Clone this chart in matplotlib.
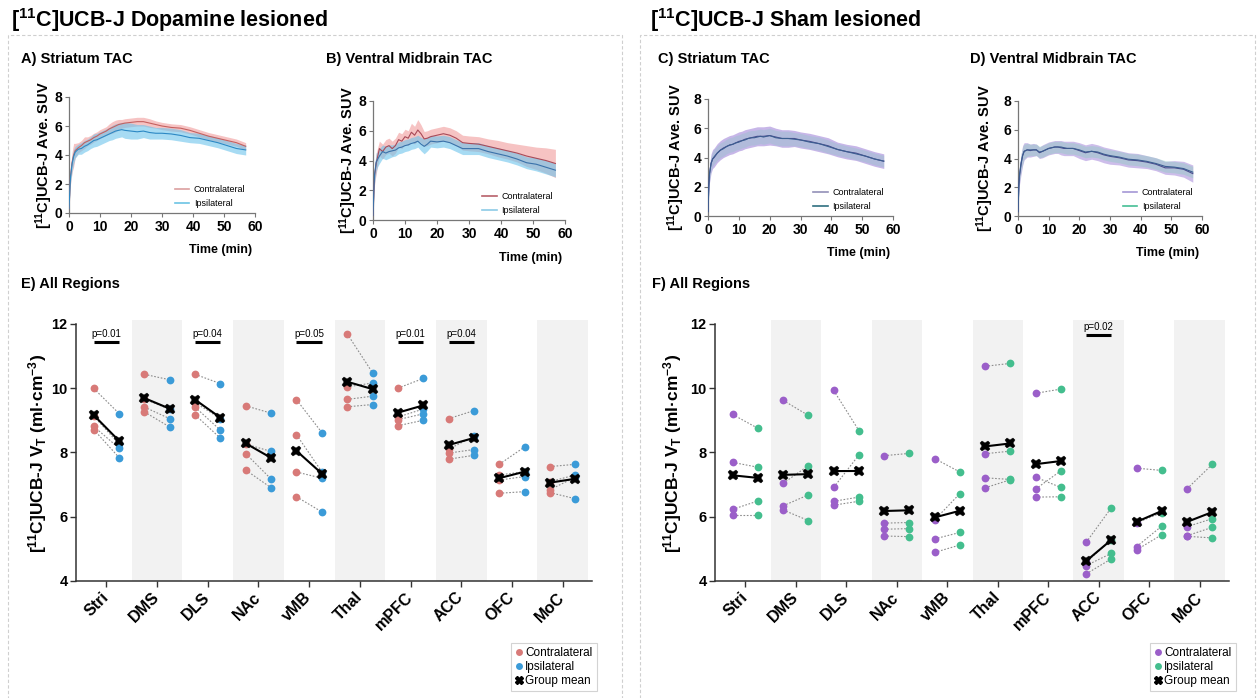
"""
[11C]UCB-J PET figure: striatal / ventral midbrain TACs and regional V_T
for dopamine-lesioned and sham-lesioned groups.
"""

import numpy as np
import matplotlib
matplotlib.use("Agg")
import matplotlib.pyplot as plt
from matplotlib.lines import Line2D
from matplotlib.patches import Rectangle

plt.rcParams["font.family"] = ["Liberation Sans", "DejaVu Sans"]
plt.rcParams["mathtext.fontset"] = "custom"
plt.rcParams["mathtext.rm"] = "Liberation Sans"
plt.rcParams["mathtext.bf"] = "Liberation Sans:bold"
plt.rcParams["mathtext.it"] = "Liberation Sans:italic"

W, H = 1260, 698

# ---- time-activity curves (frame mid-times, min) ----
tac_time = [0, 0.25, 0.5, 1, 1.5, 2, 3, 4, 5, 6, 7, 8, 9, 10, 11, 12, 13, 14, 15,
            16, 17, 18, 20, 22, 24, 26, 28, 30, 33, 36, 39, 42, 45, 48, 51, 54, 57]

# dopamine lesioned, striatum
da_str_contra = [0.3, 1.5, 2.6, 3.5, 4.0, 4.3, 4.5, 4.65, 4.85, 4.95, 5.05, 5.2, 5.3, 5.45, 5.55,
                 5.65, 5.8, 5.9, 6.0, 6.1, 6.15, 6.2, 6.25, 6.3, 6.3, 6.2, 6.1, 6.0, 5.9, 5.85,
                 5.7, 5.5, 5.3, 5.15, 5.0, 4.85, 4.6]
da_str_contra_sd = [0.1, 0.4, 0.6, 0.7, 0.8, 0.5, 0.35, 0.35, 0.4, 0.3, 0.3, 0.3, 0.3, 0.3, 0.3,
                    0.3, 0.35, 0.4, 0.4, 0.35, 0.3, 0.3, 0.3, 0.3, 0.3, 0.3, 0.25, 0.25, 0.25, 0.25,
                    0.25, 0.25, 0.25, 0.25, 0.25, 0.25, 0.25]
da_str_ipsi = [0.3, 1.5, 2.5, 3.4, 3.9, 4.2, 4.4, 4.45, 4.6, 4.7, 4.85, 5.0, 5.05, 5.15, 5.25,
               5.35, 5.45, 5.55, 5.65, 5.7, 5.75, 5.7, 5.65, 5.6, 5.65, 5.55, 5.5, 5.5, 5.45, 5.35,
               5.2, 5.15, 5.0, 4.85, 4.65, 4.45, 4.35]
da_str_ipsi_sd = [0.1, 0.3, 0.4, 0.5, 0.5, 0.4, 0.35, 0.4, 0.4, 0.4, 0.4, 0.45, 0.45, 0.45, 0.45,
                  0.45, 0.45, 0.5, 0.5, 0.5, 0.5, 0.55, 0.55, 0.5, 0.45, 0.45, 0.4, 0.4, 0.4, 0.4,
                  0.35, 0.35, 0.35, 0.35, 0.35, 0.35, 0.35]

# dopamine lesioned, ventral midbrain
da_vmb_contra = [0.3, 1.8, 3.0, 3.8, 4.3, 4.8, 4.6, 4.9, 5.0, 4.8, 5.0, 5.4, 5.3, 5.6, 5.5,
                 5.9, 5.7, 6.05, 5.8, 5.45, 5.5, 5.6, 5.7, 5.8, 5.7, 5.5, 5.2, 5.15, 5.1, 4.95,
                 4.8, 4.65, 4.5, 4.3, 4.15, 4.0, 3.8]
da_vmb_contra_sd = [0.2, 0.5, 0.6, 0.7, 0.6, 0.5, 0.5, 0.5, 0.5, 0.5, 0.5, 0.5, 0.5, 0.5, 0.5,
                    0.6, 0.6, 0.7, 0.6, 0.5, 0.5, 0.5, 0.5, 0.5, 0.5, 0.5, 0.5, 0.5, 0.5, 0.5,
                    0.55, 0.55, 0.6, 0.7, 0.75, 0.85, 0.95]
da_vmb_ipsi = [0.3, 1.9, 3.1, 3.9, 4.1, 4.3, 4.6, 4.5, 4.6, 4.65, 4.7, 4.85, 4.9, 5.0, 5.05,
               5.15, 5.2, 5.3, 5.1, 4.95, 5.1, 5.3, 5.25, 5.3, 5.2, 5.0, 4.8, 4.8, 4.8, 4.6,
               4.45, 4.3, 4.1, 3.85, 3.75, 3.55, 3.35]
da_vmb_ipsi_sd = [0.2, 0.5, 0.6, 0.6, 0.5, 0.5, 0.45, 0.45, 0.45, 0.4, 0.4, 0.4, 0.4, 0.4, 0.4,
                  0.4, 0.4, 0.4, 0.45, 0.5, 0.45, 0.4, 0.4, 0.4, 0.4, 0.4, 0.4, 0.4, 0.4, 0.4,
                  0.4, 0.4, 0.4, 0.4, 0.45, 0.45, 0.45]

# sham lesioned, striatum
sh_str_contra = [0.3, 2.0, 2.9, 3.6, 3.9, 4.0, 4.3, 4.5, 4.65, 4.75, 4.85, 4.9, 5.0, 5.1, 5.15,
                 5.25, 5.3, 5.35, 5.4, 5.45, 5.45, 5.45, 5.5, 5.4, 5.3, 5.3, 5.3, 5.2, 5.1, 4.95,
                 4.8, 4.55, 4.4, 4.3, 4.1, 3.9, 3.75]
sh_str_contra_sd = [0.1, 0.5, 0.6, 0.65, 0.65, 0.65, 0.65, 0.65, 0.65, 0.65, 0.65, 0.65, 0.65,
                    0.65, 0.65, 0.65, 0.65, 0.65, 0.65, 0.65, 0.65, 0.65, 0.65, 0.6, 0.6, 0.6,
                    0.55, 0.55, 0.55, 0.55, 0.55, 0.5, 0.5, 0.5, 0.5, 0.5, 0.5]
sh_str_ipsi = [0.3, 2.0, 2.9, 3.6, 3.9, 4.05, 4.3, 4.5, 4.6, 4.75, 4.85, 4.9, 5.0, 5.05, 5.15,
               5.2, 5.3, 5.35, 5.35, 5.4, 5.45, 5.4, 5.5, 5.35, 5.3, 5.3, 5.25, 5.2, 5.05, 4.95,
               4.75, 4.55, 4.4, 4.25, 4.1, 3.9, 3.75]
sh_str_ipsi_sd = [0.1, 0.45, 0.5, 0.5, 0.5, 0.5, 0.5, 0.5, 0.5, 0.5, 0.5, 0.5, 0.5, 0.5, 0.5,
                  0.5, 0.5, 0.5, 0.5, 0.5, 0.5, 0.5, 0.5, 0.5, 0.5, 0.5, 0.45, 0.45, 0.45, 0.45,
                  0.45, 0.4, 0.4, 0.4, 0.4, 0.4, 0.4]

# sham lesioned, ventral midbrain
sh_vmb_contra = [0.3, 2.0, 2.8, 3.6, 4.2, 4.5, 4.6, 4.55, 4.6, 4.6, 4.4, 4.5, 4.6, 4.7, 4.75,
                 4.8, 4.8, 4.75, 4.7, 4.7, 4.7, 4.7, 4.55, 4.4, 4.5, 4.4, 4.25, 4.15, 4.05, 3.9,
                 3.85, 3.75, 3.6, 3.35, 3.35, 3.25, 2.95]
sh_vmb_contra_sd = [0.1, 0.5, 0.6, 0.7, 0.7, 0.6, 0.5, 0.45, 0.45, 0.4, 0.4, 0.45, 0.45, 0.45,
                    0.45, 0.45, 0.45, 0.5, 0.5, 0.5, 0.5, 0.5, 0.55, 0.55, 0.55, 0.55, 0.55, 0.55,
                    0.5, 0.5, 0.5, 0.45, 0.45, 0.45, 0.5, 0.55, 0.6]
sh_vmb_ipsi = [0.3, 2.0, 2.9, 3.7, 4.2, 4.5, 4.6, 4.6, 4.6, 4.6, 4.45, 4.5, 4.6, 4.7, 4.75,
               4.8, 4.8, 4.8, 4.75, 4.7, 4.7, 4.7, 4.6, 4.45, 4.5, 4.45, 4.3, 4.2, 4.1, 3.95,
               3.9, 3.8, 3.65, 3.45, 3.4, 3.3, 3.05]
sh_vmb_ipsi_sd = [0.1, 0.45, 0.5, 0.6, 0.6, 0.5, 0.45, 0.4, 0.4, 0.4, 0.4, 0.4, 0.4, 0.4, 0.4,
                  0.4, 0.4, 0.4, 0.4, 0.4, 0.4, 0.4, 0.4, 0.4, 0.4, 0.4, 0.4, 0.4, 0.4, 0.4,
                  0.4, 0.4, 0.4, 0.4, 0.4, 0.4, 0.4]

# ---- regional V_T, one value per animal (n = 4) ----
regions = ["Stri", "DMS", "DLS", "NAc", "vMB", "Thal", "mPFC", "ACC", "OFC", "MoC"]

da_contra = [[9.99, 9.13, 8.81, 8.71], [10.43, 9.66, 9.41, 9.26], [10.43, 9.55, 9.41, 9.17],
             [9.45, 8.26, 7.96, 7.45], [9.64, 8.55, 7.39, 6.62], [11.69, 10.04, 9.65, 9.42],
             [10.0, 9.1, 9.02, 8.83], [9.05, 8.1, 7.98, 7.79], [7.63, 7.3, 7.14, 6.73],
             [7.56, 7.09, 6.84, 6.75]]
da_ipsi = [[9.21, 8.26, 8.13, 7.84], [10.26, 9.34, 9.05, 8.79], [10.14, 9.05, 8.69, 8.44],
           [9.22, 8.03, 7.17, 6.90], [8.62, 7.4, 7.2, 6.15], [10.48, 10.16, 9.75, 9.49],
           [10.30, 9.35, 9.2, 9.0], [9.30, 8.5, 8.09, 7.91], [8.17, 7.4, 7.25, 6.78],
           [7.63, 7.30, 7.23, 6.56]]
da_pvals = {"Stri": "p=0.01", "DLS": "p=0.04", "vMB": "p=0.05", "mPFC": "p=0.01", "ACC": "p=0.04"}

sh_contra = [[9.18, 7.69, 6.23, 6.05], [9.62, 7.04, 6.34, 6.21], [9.93, 6.91, 6.48, 6.36],
             [7.90, 5.80, 5.61, 5.40], [7.81, 5.90, 5.31, 4.89], [10.68, 7.96, 7.21, 6.90],
             [9.84, 7.23, 6.86, 6.61], [5.20, 4.58, 4.48, 4.22], [7.51, 5.81, 5.07, 4.97],
             [6.87, 5.69, 5.41, 5.39]]
sh_ipsi = [[8.75, 7.54, 6.49, 6.05], [9.15, 7.59, 6.68, 5.88], [8.68, 7.92, 6.61, 6.48],
           [7.97, 5.82, 5.63, 5.38], [7.39, 6.72, 5.51, 5.12], [10.77, 8.04, 7.16, 7.15],
           [9.97, 6.91, 7.43, 6.62], [6.28, 5.29, 4.86, 4.69], [7.44, 6.13, 5.71, 5.44],
           [7.63, 5.94, 5.67, 5.34]]
sh_pvals = {"ACC": "p=0.02"}

TAC_YLABEL = r"[$\mathbf{^{11}}$C]UCB-J Ave. SUV"
VT_YLABEL = r"[$\mathbf{^{11}}$C]UCB-J V$\mathbf{_T}$ (ml·cm$\mathbf{^{-3}}$)"

fig = plt.figure(figsize=(W / 100, H / 100), dpi=100)


def add_px_axes(x0, y0, x1, y1):
    return fig.add_axes([x0 / W, 1 - y1 / H, (x1 - x0) / W, (y1 - y0) / H])


def bold_ticks(ax, size):
    for lab in ax.get_xticklabels() + ax.get_yticklabels():
        lab.set_fontweight("bold")
        lab.set_fontsize(size)


def plot_tac(ax, contra, contra_sd, ipsi, ipsi_sd, style, ylab_dx):
    t = np.array(tac_time)
    c, cs = np.array(contra), np.array(contra_sd)
    i, isd = np.array(ipsi), np.array(ipsi_sd)
    ax.fill_between(t, c - cs, c + cs, color=style["c_band"], alpha=style["c_alpha"], lw=0, zorder=1)
    ax.fill_between(t, i - isd, i + isd, color=style["i_band"], alpha=style["i_alpha"], lw=0, zorder=2)
    ax.plot(t, c, color=style["c_line"], lw=0.8, zorder=3)
    ax.plot(t, i, color=style["i_line"], lw=0.8, zorder=4)
    ax.set_xlim(0, 60)
    ax.set_ylim(0, 8)
    ax.set_xticks(range(0, 61, 10))
    ax.set_yticks(range(0, 9, 2))
    for s in ("top", "right"):
        ax.spines[s].set_visible(False)
    for s in ("left", "bottom"):
        ax.spines[s].set_color("#777777")
        ax.spines[s].set_linewidth(0.9)
    ax.tick_params(length=3, width=0.8, color="#777777", pad=2)
    bold_ticks(ax, 10)
    ax.text(ylab_dx, 0.5, TAC_YLABEL, transform=ax.transAxes, rotation=90,
            ha="center", va="center", fontsize=10.5, fontweight="bold")
    ax.text(0.985, -0.32, "Time (min)", transform=ax.transAxes, ha="right", va="center",
            fontsize=9, fontweight="bold")
    handles = [Line2D([], [], color=style["c_leg"], lw=1.2),
               Line2D([], [], color=style["i_leg"], lw=1.2)]
    ax.legend(handles, ["Contralateral", "Ipsilateral"], loc="lower left",
              bbox_to_anchor=(0.57, 0.04), frameon=False, fontsize=6.5,
              handlelength=1.6, handletextpad=0.5, labelspacing=0.6,
              borderpad=0, borderaxespad=0)


def plot_regions(ax, contra, ipsi, pvals, c_col, i_col, p_bar, ylab_dx):
    for k, name in enumerate(regions):
        if k % 2 == 1:
            ax.axvspan(k - 0.5, k + 0.5, color="#f2f2f2", lw=0, zorder=0)
        for a, b in zip(contra[k], ipsi[k]):
            ax.plot([k - 0.25, k + 0.25], [a, b], color="#8c8c8c", lw=0.8,
                    ls=(0, (1.5, 1.5)), zorder=1)
        ax.plot([k - 0.25] * len(contra[k]), contra[k], "o", color=c_col, ms=5.6, mew=0, zorder=2)
        ax.plot([k + 0.25] * len(ipsi[k]), ipsi[k], "o", color=i_col, ms=5.6, mew=0, zorder=2)
        ax.plot([k - 0.25, k + 0.25], [np.mean(contra[k]), np.mean(ipsi[k])], color="black",
                lw=1.5, marker="X", ms=7.5, mew=0.3, zorder=4)
        if name in pvals:
            ax.plot([k - 0.25, k + 0.25], [p_bar, p_bar], color="black", lw=2.2,
                    solid_capstyle="butt", zorder=3)
            ax.text(k, p_bar + 0.16, pvals[name], ha="center", va="baseline", fontsize=7)
    ax.set_xlim(-0.6, 9.58)
    ax.set_ylim(4, 12.12)
    ax.set_yticks([4, 6, 8, 10, 12])
    ax.set_xticks(range(len(regions)))
    ax.set_xticklabels(regions, rotation=45, ha="right", va="center", rotation_mode="anchor")
    for s in ("top", "right"):
        ax.spines[s].set_visible(False)
    ax.spines["left"].set_bounds(4, 12)
    for s in ("left", "bottom"):
        ax.spines[s].set_color("#333333")
        ax.spines[s].set_linewidth(1.1)
    ax.tick_params(axis="y", length=4, width=1, color="#333333", pad=2)
    ax.tick_params(axis="x", length=4, width=1, color="#333333", pad=6)
    bold_ticks(ax, 10.5)
    for lab in ax.get_xticklabels():
        lab.set_fontsize(11.5)
    ax.text(ylab_dx, 0.49, VT_YLABEL, transform=ax.transAxes, rotation=90,
            ha="center", va="center", fontsize=12.5, fontweight="bold")


def add_region_legend(ax, c_col, i_col, x_px, y_px):
    handles = [Line2D([], [], ls="none", marker="o", color=c_col, ms=5, mew=0),
               Line2D([], [], ls="none", marker="o", color=i_col, ms=5, mew=0),
               Line2D([], [], ls="none", marker="X", color="black", ms=6)]
    leg = ax.legend(handles, ["Contralateral", "Ipsilateral", "Group mean"], loc="upper left",
                    bbox_to_anchor=(x_px / W, 1 - y_px / H), bbox_transform=fig.transFigure,
                    frameon=True, fancybox=False, fontsize=8.5, handlelength=0.6,
                    handletextpad=0.25, labelspacing=0.15, borderpad=0.35, borderaxespad=0)
    leg.get_frame().set_edgecolor("#c8c8c8")
    leg.get_frame().set_linewidth(0.8)


# dashed group boxes
for x0, x1 in ((8, 622), (640, 1255)):
    fig.add_artist(Rectangle((x0 / W, -0.02), (x1 - x0) / W, 1 - 35 / H + 0.02,
                             transform=fig.transFigure, fill=False, ec="#cfcfcf",
                             lw=0.8, ls=(0, (3, 2))))

fig.text(11 / W, 1 - 27 / H, r"[$\mathbf{^{11}}$C]UCB-J Dopamine lesioned", fontsize=15.5,
         fontweight="bold", va="baseline")
fig.text(650 / W, 1 - 27 / H, r"[$\mathbf{^{11}}$C]UCB-J Sham lesioned", fontsize=15.5,
         fontweight="bold", va="baseline")

panel_titles = [("A) Striatum TAC", 21, 63), ("B) Ventral Midbrain TAC", 326, 63),
                ("C) Striatum TAC", 658, 63), ("D) Ventral Midbrain TAC", 970, 63),
                ("E) All Regions", 21, 288), ("F) All Regions", 652, 288)]
for txt, x, y in panel_titles:
    fig.text(x / W, 1 - y / H, txt, fontsize=10.5, fontweight="bold", va="baseline")

da_style_a = dict(c_band="#f2a3a3", c_alpha=0.65, i_band="#6cc4ec", i_alpha=0.6,
                  c_line="#c4605f", i_line="#2c88c4", c_leg="#dba0a0", i_leg="#6cc4e4")
da_style_b = dict(c_band="#f2a3a3", c_alpha=0.65, i_band="#6cc4ec", i_alpha=0.6,
                  c_line="#a84a58", i_line="#3a72aa", c_leg="#b8606a", i_leg="#8ccbe6")
sh_style_c = dict(c_band="#a98fdc", c_alpha=0.65, i_band="#7fc9c0", i_alpha=0.3,
                  c_line="#4d4a8e", i_line="#3b5e90", c_leg="#9290b8", i_leg="#2f6f80")
sh_style_d = dict(c_band="#b39ae0", c_alpha=0.65, i_band="#7fd0b8", i_alpha=0.35,
                  c_line="#4d4a8e", i_line="#3b5e90", c_leg="#a497d6", i_leg="#45bf95")

ax_a = add_px_axes(69, 97, 255, 213)
plot_tac(ax_a, da_str_contra, da_str_contra_sd, da_str_ipsi, da_str_ipsi_sd, da_style_a, -0.135)
ax_b = add_px_axes(373, 101, 565, 220)
plot_tac(ax_b, da_vmb_contra, da_vmb_contra_sd, da_vmb_ipsi, da_vmb_ipsi_sd, da_style_b, -0.13)
ax_c = add_px_axes(708, 99, 893, 216)
plot_tac(ax_c, sh_str_contra, sh_str_contra_sd, sh_str_ipsi, sh_str_ipsi_sd, sh_style_c, -0.17)
ax_d = add_px_axes(1018, 101, 1202, 216)
plot_tac(ax_d, sh_vmb_contra, sh_vmb_contra_sd, sh_vmb_ipsi, sh_vmb_ipsi_sd, sh_style_d, -0.18)

da_c_col, da_i_col = "#d87a78", "#3b9bd8"
sh_c_col, sh_i_col = "#9b5fc9", "#44be8e"

ax_e = add_px_axes(76, 320, 592, 581)
plot_regions(ax_e, da_contra, da_ipsi, da_pvals, da_c_col, da_i_col, 11.42, -0.074)
add_region_legend(ax_e, da_c_col, da_i_col, 511, 643)

ax_f = add_px_axes(715, 320, 1229, 581)
plot_regions(ax_f, sh_contra, sh_ipsi, sh_pvals, sh_c_col, sh_i_col, 11.64, -0.082)
add_region_legend(ax_f, sh_c_col, sh_i_col, 1150, 643)

fig.savefig("out.png", dpi=100)
